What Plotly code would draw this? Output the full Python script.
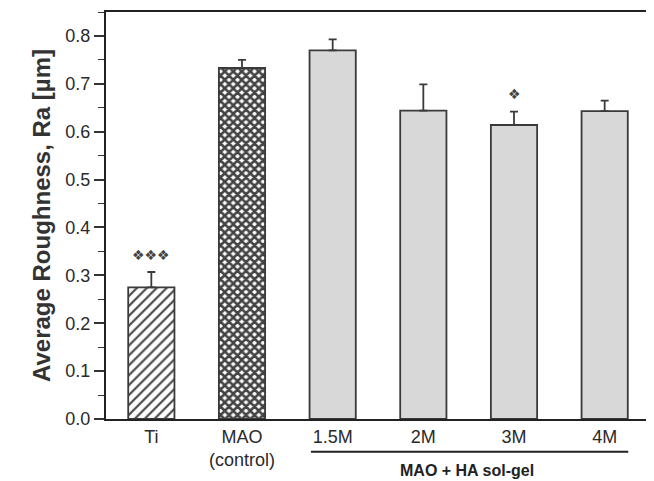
import plotly.graph_objects as go

categories = ["Ti", "MAO<br>(control)", "1.5M", "2M", "3M", "4M"]
roughness = [0.275, 0.733, 0.770, 0.644, 0.614, 0.643]
errors = [0.032, 0.017, 0.023, 0.055, 0.028, 0.022]
markers = ["❖❖❖", "", "", "", "❖", ""]
marker_y = [0.342, None, None, None, 0.678, None]
group_label = "MAO + HA sol-gel"
group_members = ["1.5M", "2M", "3M", "4M"]

fills = ["white", "white", "#d8d8d8", "#d8d8d8", "#d8d8d8", "#d8d8d8"]
shapes_p = ["/", "x", "", "", "", ""]
fg = ["#2a2a2a", "#2a2a2a", "#d8d8d8", "#d8d8d8", "#d8d8d8", "#d8d8d8"]
sizes = [7, 6, 8, 8, 8, 8]
solid = [0.3, 0.68, 0.3, 0.3, 0.3, 0.3]

# page body has a default 8px margin; offsets below compensate so the plot lands where the reference has it
fig = go.Figure()
fig.add_trace(go.Bar(
    x=categories, y=roughness, width=0.51,
    marker=dict(
        color=fills,
        line=dict(color="#3a3a3a", width=1.8),
        pattern=dict(shape=shapes_p, fgcolor=fg, bgcolor=fills, size=sizes, solidity=solid,
                     fillmode="overlay", fgopacity=1),
    ),
    error_y=dict(type="data", symmetric=False, array=errors, arrayminus=[0]*len(errors),
                 color="#3a3a3a", thickness=1.8, width=4),
    showlegend=False,
))

for c, m, yv in zip(categories, markers, marker_y):
    if m:
        fig.add_annotation(x=c, y=yv, text=m, showarrow=False, xref="x", yref="y",
                           font=dict(size=14, color="#444444", family="DejaVu Sans"))

idx0 = categories.index(group_members[0])
idx1 = categories.index(group_members[-1])
fig.add_shape(type="line", xref="x", yref="paper", x0=idx0 - 0.24, x1=idx1 + 0.26,
              y0=-0.0805, y1=-0.0805, line=dict(color="#222222", width=2))
fig.add_annotation(x=(idx0 + idx1) / 2 - 0.02, xref="x", y=-0.126, yref="paper", yanchor="middle",
                   text="<b>" + group_label + "</b>", showarrow=False,
                   font=dict(size=16, color="#222222", family="Liberation Sans, Arial"))

fig.update_layout(
    width=654, height=481,
    margin=dict(l=98, r=12, t=2, b=70),
    paper_bgcolor="white", plot_bgcolor="white",
    font=dict(family="Liberation Sans, Arial, sans-serif", color="#2a2a2a", size=18),
    bargap=0.49,
)
fig.update_xaxes(range=[-0.5, 5.5], showline=True, linecolor="#222222", linewidth=2, mirror=True,
                 ticks="", showgrid=False, tickfont=dict(size=18))
fig.update_yaxes(range=[0, 0.85], dtick=0.1, tick0=0, showline=True, linecolor="#222222", linewidth=2,
                 mirror=True, ticks="outside", ticklen=10, tickwidth=1.5, tickcolor="#333333",
                 showgrid=False, zeroline=False, tickformat=".1f", tickfont=dict(size=18),
                 minor=dict(dtick=0.05, ticks="outside", ticklen=6, tickwidth=1.3, tickcolor="#333333"),
                 title=dict(text="<b>Average Roughness, Ra [µm]</b>", font=dict(size=24, color="#333333"),
                            standoff=8))

fig.write_html("out.html")
